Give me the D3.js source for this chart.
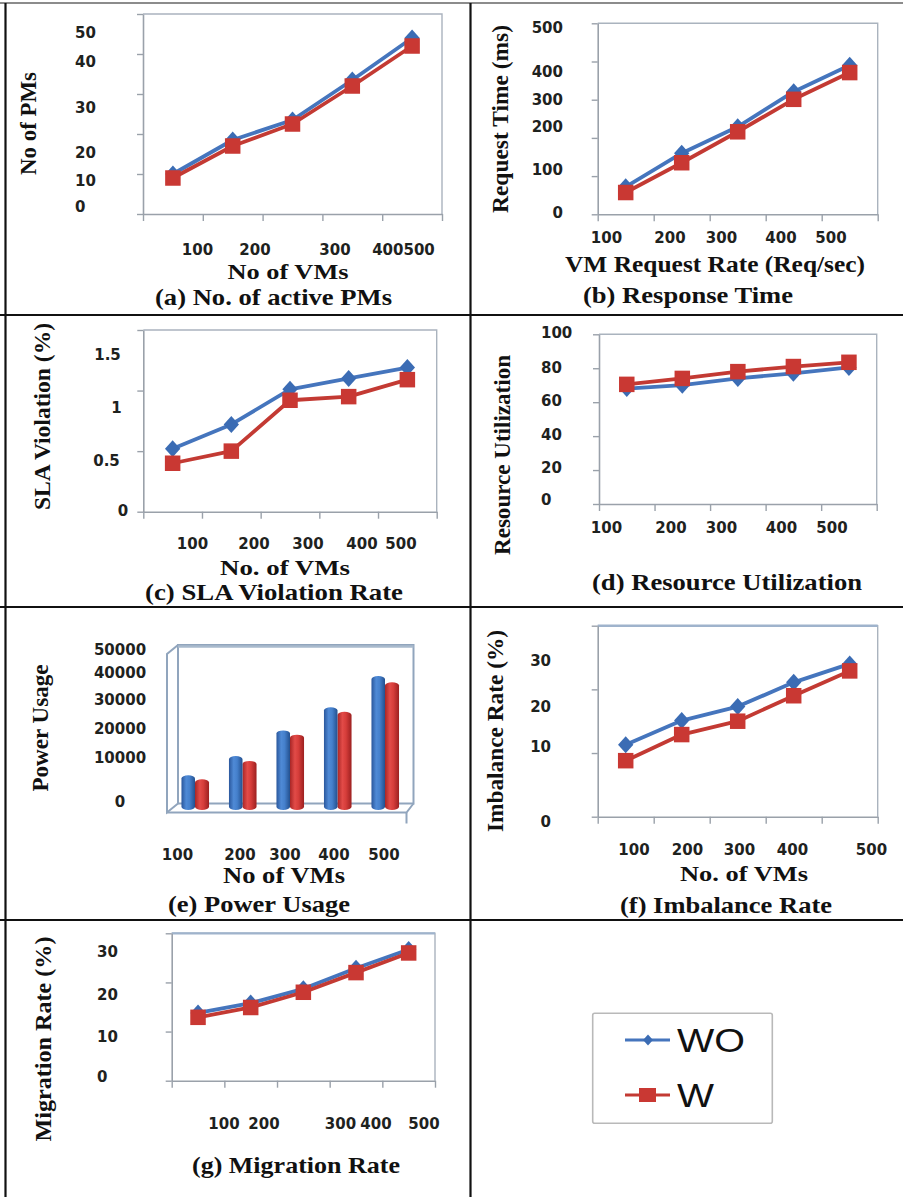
<!DOCTYPE html>
<html>
<head>
<meta charset="utf-8">
<script src="https://cdn.jsdelivr.net/npm/d3@7"></script>
<style>
  html, body { margin: 0; padding: 0; background: #fff; }
  svg { display: block; }
</style>
</head>
<body>
<svg id="fig" width="903" height="1197"></svg>
<script>
// ---------------- data ----------------
const vmCategories = ["100", "200", "300", "400", "500"];
const seriesNames = ["WO", "W"];

const activePMs_WO = [10, 18.5, 23.5, 33.5, 44];
const activePMs_W  = [9, 17, 22.5, 32, 42];

const responseTime_WO = [72, 160, 229, 321, 390];
const responseTime_W  = [57, 135, 216, 301, 371];

const slaViolation_WO = [0.52, 0.72, 1.01, 1.10, 1.19];
const slaViolation_W  = [0.40, 0.50, 0.92, 0.95, 1.09];

const resourceUtil_WO = [68, 70, 74, 77, 80.5];
const resourceUtil_W  = [70.5, 74, 78, 81, 83.5];

const powerUsage_WO = [5500, 11800, 20200, 27800, 38000];
const powerUsage_W  = [4200, 10200, 18800, 26300, 36000];

const imbalance_WO = [11.3, 15.1, 17.3, 21.1, 24.0];
const imbalance_W  = [8.8, 12.9, 15.0, 19.0, 22.9];

const migration_WO = [13.8, 15.8, 18.7, 22.9, 26.7];
const migration_W  = [12.9, 14.9, 18.0, 22.0, 26.0];

// tick label texts (bottom to top for y, left to right for x)
const pmTickLabels      = ["0", "10", "20", "30", "40", "50"];
const pmVmTickLabels    = ["100", "200", "300", "400500"];
const rtTickLabels      = ["0", "100", "200", "300", "400", "500"];
const slaTickLabels     = ["0", "0.5", "1", "1.5"];
const ruTickLabels      = ["0", "20", "40", "60", "80", "100"];
const powerTickLabels   = ["0", "10000", "20000", "30000", "40000", "50000"];
const pctTickLabels     = ["0", "10", "20", "30"];

// ---------------- styles ----------------
const BLUE_LINE = "#4575bd", BLUE_MARK = "#3b6cb4";
const RED_LINE = "#c33a33", RED_MARK = "#c93833";
const FRAME = "#aab3be", AXIS = "#9aa1aa";
const SERIF = "'Liberation Serif','Times New Roman',serif";
const NUMFONT = "'DejaVu Sans',sans-serif";

const svg = d3.select("#fig");

// ---------------- page rules ----------------
const rules = svg.append("g");
rules.append("line").attr("x1", 0).attr("x2", 903).attr("y1", 3).attr("y2", 3)
  .attr("stroke", "#8c8c8c").attr("stroke-width", 2);
[[5.5, 3, 5.5, 1197], [470.5, 3, 470.5, 1197],
 [0, 315, 903, 315], [0, 607, 903, 607], [0, 920, 903, 920]].forEach(l => {
  rules.append("line").attr("x1", l[0]).attr("y1", l[1]).attr("x2", l[2]).attr("y2", l[3])
    .attr("stroke", "#111").attr("stroke-width", 2.2);
});

// ---------------- helpers ----------------
function serifText(g, str, o) {
  const t = g.append("text").text(str)
    .attr("font-family", SERIF).attr("font-weight", "bold")
    .attr("font-size", o.size || 23).attr("fill", "#111")
    .attr("text-anchor", "middle")
    .attr("textLength", o.len).attr("lengthAdjust", "spacingAndGlyphs");
  if (o.rot) {
    t.attr("transform", `translate(${o.x},${o.y}) rotate(-90)`).attr("dy", "0.33em");
  } else {
    t.attr("x", o.x).attr("y", o.y);
  }
}

function numLabels(g, texts, xs, ys, anchor) {
  texts.forEach((s, i) => {
    g.append("text").text(s)
      .attr("x", Array.isArray(xs) ? xs[i] : xs)
      .attr("y", Array.isArray(ys) ? ys[i] : ys)
      .attr("text-anchor", anchor || "middle")
      .attr("dominant-baseline", "central")
      .attr("font-family", NUMFONT).attr("font-weight", "bold")
      .attr("font-size", 15).attr("fill", "#1e221e");
  });
}

function diamond(g, cx, cy, r, fill) {
  g.append("path")
    .attr("d", `M${cx},${cy - r}L${cx + r * 0.9},${cy}L${cx},${cy + r}L${cx - r * 0.9},${cy}Z`)
    .attr("fill", fill);
}

function lineChart(cfg) {
  const g = svg.append("g");
  const [x0, y0, x1, y1] = cfg.frame;
  const x = d3.scaleLinear().domain([0, vmCategories.length]).range([x0, x1]);
  const y = d3.scaleLinear().domain([0, cfg.yMax]).range([y1, y0]);

  // plot area frame (top and right edges)
  g.append("path")
    .attr("d", `M${x0},${y0}H${x1}V${y1}`)
    .attr("fill", "none").attr("stroke", FRAME).attr("stroke-width", 1.4);
  if (cfg.thickTop) {
    g.append("line").attr("x1", x0).attr("x2", x1).attr("y1", y0).attr("y2", y0)
      .attr("stroke", "#9fb3cc").attr("stroke-width", cfg.thickTop);
  }

  const yTicks = d3.range(0, cfg.yMax + cfg.yStep / 2, cfg.yStep);
  const ax = g.append("g").attr("transform", `translate(${x0},0)`)
    .call(d3.axisLeft(y).tickValues(yTicks).tickSizeInner(6).tickSizeOuter(0).tickFormat(""));
  const bx = g.append("g").attr("transform", `translate(0,${y1})`)
    .call(d3.axisBottom(x).tickValues(d3.range(vmCategories.length + 1))
      .tickSizeInner(7).tickSizeOuter(0).tickFormat(""));
  [ax, bx].forEach(a => {
    a.selectAll(".domain").attr("stroke", AXIS).attr("stroke-width", 1.6);
    a.selectAll(".tick line").attr("stroke", AXIS).attr("stroke-width", 1.4);
  });

  const line = d3.line().x((d, i) => x(i + 0.5)).y(d => y(d));
  g.append("path").datum(cfg.wo).attr("d", line)
    .attr("fill", "none").attr("stroke", BLUE_LINE).attr("stroke-width", 3.8)
    .attr("stroke-linejoin", "round");
  cfg.wo.forEach((v, i) => diamond(g, x(i + 0.5), y(v), 8.5, BLUE_MARK));

  g.append("path").datum(cfg.w).attr("d", line)
    .attr("fill", "none").attr("stroke", RED_LINE).attr("stroke-width", 3.8)
    .attr("stroke-linejoin", "round");
  const s = 15.5;
  cfg.w.forEach((v, i) => {
    g.append("rect").attr("x", x(i + 0.5) - s / 2).attr("y", y(v) - s / 2)
      .attr("width", s).attr("height", s).attr("fill", RED_MARK);
  });

  numLabels(g, cfg.yLab.text, cfg.yLab.x, cfg.yLab.ys, cfg.yLab.anchor);
  numLabels(g, cfg.xLab.text, cfg.xLab.xs, cfg.xLab.y, "middle");
  serifText(g, cfg.yTitle[0], { x: cfg.yTitle[1], y: cfg.yTitle[2], len: cfg.yTitle[3], rot: true, size: 24 });
  if (cfg.xTitle) serifText(g, cfg.xTitle[0], { x: cfg.xTitle[1], y: cfg.xTitle[2], len: cfg.xTitle[3], size: cfg.xTitle[4] || 23 });
  serifText(g, cfg.caption[0], { x: cfg.caption[1], y: cfg.caption[2], len: cfg.caption[3] });
}

// ---------------- (a) ----------------
lineChart({
  frame: [143, 14, 442, 214], yMax: 50, yStep: 10,
  wo: activePMs_WO, w: activePMs_W,
  yLab: { text: pmTickLabels, x: 75, ys: [207, 181, 153, 108, 62, 33], anchor: "start" },
  xLab: { text: pmVmTickLabels, xs: [197.5, 255, 335, 403.5], y: 250 },
  yTitle: ["No of PMs", 28, 123.5, 103],
  xTitle: ["No of VMs", 288, 278.5, 121, 22],
  caption: ["(a) No. of active PMs", 273.5, 305, 237]
});

// ---------------- (b) ----------------
lineChart({
  frame: [597.7, 23.3, 877.7, 214.3], yMax: 500, yStep: 100,
  wo: responseTime_WO, w: responseTime_W,
  yLab: { text: rtTickLabels, x: 563, ys: [213, 170, 126.7, 100, 71.7, 28], anchor: "end" },
  xLab: { text: vmCategories, xs: [606.5, 670, 721.5, 781, 831], y: 238 },
  yTitle: ["Request Time (ms)", 500, 119, 188],
  xTitle: ["VM Request Rate (Req/sec)", 715, 272, 300],
  caption: ["(b) Response Time", 688, 303, 210]
});

// ---------------- (c) ----------------
lineChart({
  frame: [143.3, 330, 436.7, 511.7], yMax: 1.5, yStep: 0.5,
  wo: slaViolation_WO, w: slaViolation_W,
  yLab: { text: slaTickLabels, x: [123, 106.5, 116.5, 107.5], ys: [510.7, 461, 408.3, 355], anchor: "middle" },
  xLab: { text: vmCategories, xs: [192.5, 254, 308, 362, 401], y: 544 },
  yTitle: ["SLA Violation (%)", 42, 416.5, 187],
  xTitle: ["No. of VMs", 285, 574.5, 130, 22],
  caption: ["(c) SLA Violation Rate", 274, 600, 258]
});

// ---------------- (d) ----------------
lineChart({
  frame: [599, 334.3, 876.7, 504], yMax: 100, yStep: 20,
  wo: resourceUtil_WO, w: resourceUtil_W,
  yLab: { text: ruTickLabels, x: 541, ys: [500, 468, 435, 401, 368.3, 333.3], anchor: "start" },
  xLab: { text: vmCategories, xs: [606.5, 671, 721.5, 781.5, 832], y: 528.3 },
  yTitle: ["Resource Utilization", 502, 455, 200],
  caption: ["(d) Resource Utilization", 727, 590, 270]
});

// ---------------- (f) ----------------
lineChart({
  frame: [597.7, 625.7, 877.7, 816.7], yMax: 30, yStep: 10, thickTop: 2.6,
  wo: imbalance_WO, w: imbalance_W,
  yLab: { text: pctTickLabels, x: 551, ys: [821.7, 746.7, 706.7, 661], anchor: "end" },
  xLab: { text: vmCategories, xs: [634, 687.5, 739.5, 792.5, 871.5], y: 850 },
  yTitle: ["Imbalance Rate (%)", 495, 731, 202],
  xTitle: ["No. of VMs", 744, 880.5, 128, 22],
  caption: ["(f) Imbalance Rate", 726, 913, 212]
});

// ---------------- (g) ----------------
lineChart({
  frame: [171.7, 933.3, 435, 1080.7], yMax: 30, yStep: 10, thickTop: 2.2,
  wo: migration_WO, w: migration_W,
  yLab: { text: pctTickLabels, x: 97, ys: [1076.7, 1036.7, 995, 951.7], anchor: "start" },
  xLab: { text: vmCategories, xs: [224, 264, 340.5, 376, 424], y: 1124.3 },
  yTitle: ["Migration Rate (%)", 43, 1039, 205],
  caption: ["(g) Migration Rate", 296, 1173, 208]
});

// ---------------- (e) 3D clustered cylinders ----------------
(function powerChart() {
  const g = svg.append("g");
  const defs = svg.append("defs");
  function grad(id, stops) {
    const lg = defs.append("linearGradient").attr("id", id)
      .attr("x1", "0%").attr("x2", "100%").attr("y1", "0%").attr("y2", "0%");
    stops.forEach(s => lg.append("stop").attr("offset", s[0]).attr("stop-color", s[1]));
  }
  grad("gBlue", [["0%", "#2a579c"], ["35%", "#4f8ad6"], ["60%", "#4580cc"], ["100%", "#23508f"]]);
  grad("gRed", [["0%", "#a82626"], ["35%", "#e24b48"], ["60%", "#d63d3a"], ["100%", "#9c2020"]]);

  // walls and floor
  const wall = { l: 178, r: 413.5, t: 645, b: 803.5, dx: -11, dy: 9 };
  const P = d => g.append("path").attr("d", d).attr("fill", "none")
    .attr("stroke", "#91a5bd").attr("stroke-width", 2);
  P(`M${wall.l},${wall.b}V${wall.t}H${wall.r}V${wall.b}Z`);
  g.append("line").attr("x1", wall.l).attr("x2", wall.r).attr("y1", wall.t + 1.5).attr("y2", wall.t + 1.5)
    .attr("stroke", "#a9bacd").attr("stroke-width", 2.5);
  P(`M${wall.l},${wall.t}l${wall.dx},${wall.dy}V${wall.b + wall.dy}L${wall.l},${wall.b}`);
  P(`M${wall.l + wall.dx},${wall.b + wall.dy}H${wall.r + wall.dx + 4}L${wall.r},${wall.b}`);
  P(`M${wall.r + wall.dx + 4},${wall.b + wall.dy}v11`);

  const x = d3.scaleBand().domain(vmCategories).range([171.25, 408.75])
    .paddingInner(0.43).paddingOuter(0.215);
  const xs = d3.scaleBand().domain(seriesNames).range([0, x.bandwidth()]);
  const y = d3.scaleLinear().domain([0, 50000]).range([792, 639.5]);
  const base = 810;

  function cylinder(x0, w, top, fill) {
    const rx = w / 2, ry = 3.2;
    g.append("path")
      .attr("d", `M${x0},${base - ry}V${top + ry}A${rx},${ry} 0 0 1 ${x0 + w},${top + ry}` +
        `V${base - ry}A${rx},${ry} 0 0 1 ${x0},${base - ry}Z`)
      .attr("fill", fill);
  }
  vmCategories.forEach((c, i) => {
    cylinder(x(c) + xs("W"), xs.bandwidth() + 0.5, y(powerUsage_W[i]), "url(#gRed)");
    cylinder(x(c) + xs("WO"), xs.bandwidth(), y(powerUsage_WO[i]), "url(#gBlue)");
  });

  numLabels(g, powerTickLabels, 120, [801.7, 757.7, 729, 700, 673.3, 650], "middle");
  numLabels(g, vmCategories, [177.5, 240, 285, 334, 384], 855, "middle");
  serifText(g, "Power Usage", { x: 40, y: 728, len: 127, rot: true, size: 24 });
  serifText(g, "No of VMs", { x: 284, y: 883, len: 122 });
  serifText(g, "(e) Power Usage", { x: 259, y: 911.7, len: 182 });
})();

// ---------------- legend ----------------
(function legend() {
  const g = svg.append("g");
  g.append("rect").attr("x", 592.7).attr("y", 1013.3).attr("width", 179.6).attr("height", 110)
    .attr("rx", 2).attr("fill", "#fff").attr("stroke", "#b9b9b9").attr("stroke-width", 1.6);
  const items = [
    { name: seriesNames[0], y: 1040, color: BLUE_LINE, mark: "diamond", len: 68 },
    { name: seriesNames[1], y: 1095, color: RED_LINE, mark: "square", len: 37 }
  ];
  items.forEach(it => {
    g.append("line").attr("x1", 625).attr("x2", 670).attr("y1", it.y).attr("y2", it.y)
      .attr("stroke", it.color).attr("stroke-width", 3);
    if (it.mark === "diamond") diamond(g, 648, it.y, 5.5, BLUE_MARK);
    else g.append("rect").attr("x", 639).attr("y", it.y - 7).attr("width", 17).attr("height", 14)
      .attr("fill", RED_MARK);
    g.append("text").text(it.name).attr("x", 677).attr("y", it.y + 11.5)
      .attr("font-family", "'Liberation Sans',Arial,sans-serif").attr("font-size", 34)
      .attr("fill", "#111").attr("textLength", it.len).attr("lengthAdjust", "spacingAndGlyphs");
  });
})();
</script>
</body>
</html>
